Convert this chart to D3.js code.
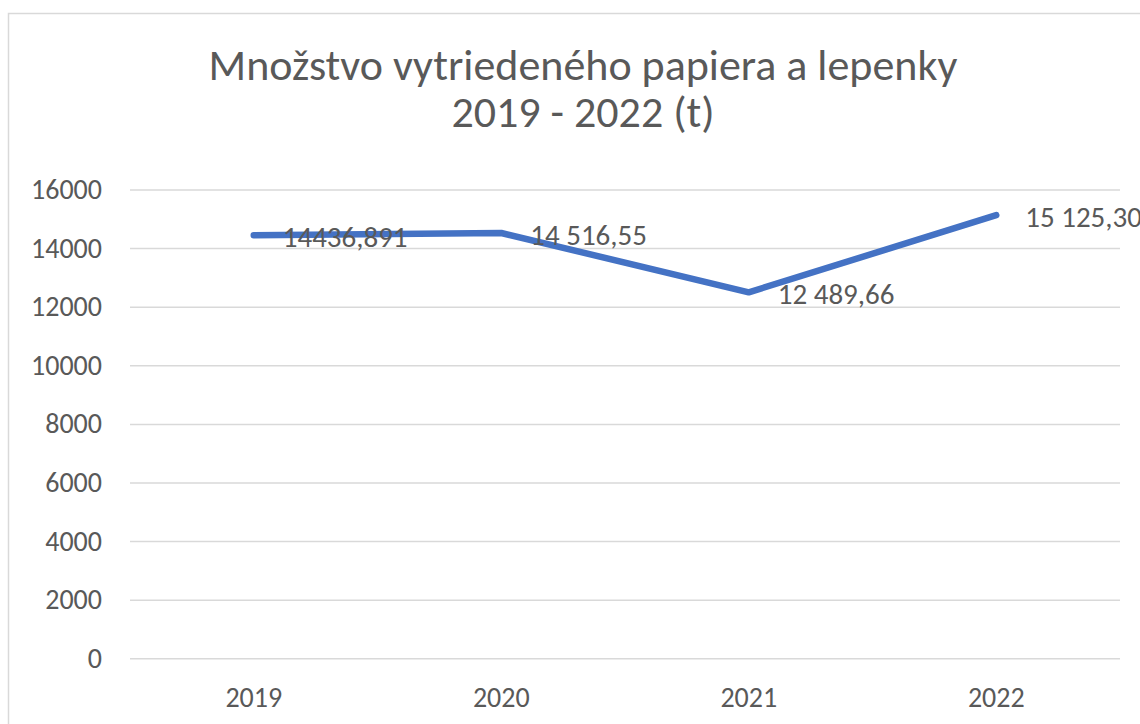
<!DOCTYPE html>
<html>
<head>
<meta charset="utf-8">
<script src="https://cdn.jsdelivr.net/npm/d3@7"></script>
<style>
  body { margin: 0; background: #fff; }
  text { font-family: Carlito, Lato, "Open Sans", sans-serif; fill: #595959; }
</style>
</head>
<body>
<div id="chart"></div>
<script>
// data
var years = ["2019", "2020", "2021", "2022"];
var amounts = [14436.891, 14516.55, 12489.66, 15125.30];
var amountLabels = ["14436,891", "14 516,55", "12 489,66", "15 125,30"];
var yTicks = [0, 2000, 4000, 6000, 8000, 10000, 12000, 14000, 16000];
var titleLines = ["Množstvo vytriedeného papiera a lepenky", "2019 - 2022 (t)"];

var svgWidth = 1140;
var svgHeight = 724;

var plot = { left: 130, right: 1120, top: 189.5, bottom: 658.3 };

var svg = d3.select("#chart").append("svg")
    .attr("width", svgWidth)
    .attr("height", svgHeight);

// chart frame (runs off the right and bottom edge)
svg.append("rect")
    .attr("x", 8.5)
    .attr("y", 13.5)
    .attr("width", 1200)
    .attr("height", 800)
    .attr("fill", "#fff")
    .attr("stroke", "#d9d9d9")
    .attr("stroke-width", 1.5);

// title
svg.selectAll("text.title")
    .data(titleLines)
    .enter()
    .append("text")
    .classed("title", true)
    .attr("x", 583)
    .attr("y", (d, i) => 80 + i * 47)
    .attr("text-anchor", "middle")
    .attr("font-size", "44px")
    .text(d => d);

// scales
var xScale = d3.scaleBand()
    .domain(years)
    .range([plot.left, plot.right]);

var yScale = d3.scaleLinear()
    .domain([0, 16000])
    .range([plot.bottom, plot.top]);

// gridlines + y labels
var leftAxis = d3.axisLeft(yScale)
    .tickValues(yTicks)
    .tickSize(-(plot.right - plot.left))
    .tickPadding(28)
    .tickFormat(d3.format("d"));

var yAxis = svg.append("g")
    .attr("transform", `translate(${plot.left}, 0)`)
    .call(leftAxis);
yAxis.select(".domain").remove();
yAxis.selectAll("line")
    .attr("stroke", "#d9d9d9")
    .attr("stroke-width", 1.5);
yAxis.selectAll("text")
    .attr("font-size", "28px")
    .attr("font-family", null)
    .attr("fill", "#595959");

// x labels
var bottomAxis = d3.axisBottom(xScale)
    .tickSize(0)
    .tickPadding(29);

var xAxis = svg.append("g")
    .attr("transform", `translate(0, ${plot.bottom})`)
    .call(bottomAxis);
xAxis.select(".domain").remove();
xAxis.selectAll("text")
    .attr("font-size", "28px")
    .attr("font-family", null)
    .attr("fill", "#595959");

// line
var line = d3.line()
    .x((d, i) => xScale(years[i]) + xScale.bandwidth() / 2)
    .y(d => yScale(d));

svg.append("path")
    .datum(amounts)
    .attr("d", line)
    .attr("fill", "none")
    .attr("stroke", "#4472c4")
    .attr("stroke-width", 6.5)
    .attr("stroke-linecap", "round")
    .attr("stroke-linejoin", "round");

// data labels, right of each point
svg.selectAll("text.value")
    .data(amounts)
    .enter()
    .append("text")
    .classed("value", true)
    .attr("x", (d, i) => xScale(years[i]) + xScale.bandwidth() / 2 + 29)
    .attr("y", d => yScale(d) + 1.5)
    .attr("dy", "0.36em")
    .attr("font-size", "29px")
    .attr("fill", "#404040")
    .text((d, i) => amountLabels[i]);
</script>
</body>
</html>
